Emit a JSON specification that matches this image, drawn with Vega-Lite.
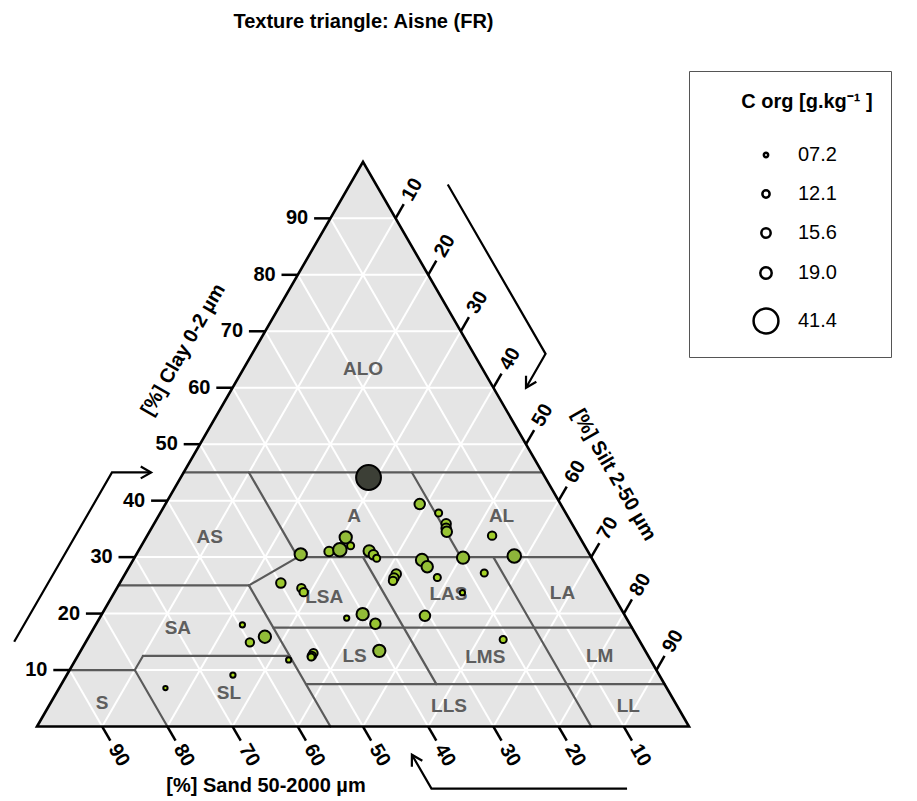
{
  "$schema": "https://vega.github.io/schema/vega-lite/v6.json",
  "width": 917,
  "height": 761,
  "autosize": {"type": "none"},
  "padding": {"top": 40, "left": 0, "right": 0, "bottom": 0},
  "background": "white",
  "config": {"view": {"stroke": null}, "font": "Liberation Sans, Arial, sans-serif"},
  "title": {"text": "Texture triangle: Aisne (FR)", "fontSize": 20, "fontWeight": "bold", "font": "Liberation Sans, Arial, sans-serif", "anchor": "middle", "dx": -95, "offset": -8, "baseline": "alphabetic", "color": "black"},
  "datasets": {
    "vertices": [
      {"clay": 0, "silt": 0, "sand": 100},
      {"clay": 100, "silt": 0, "sand": 0},
      {"clay": 0, "silt": 100, "sand": 0}
    ],
    "ticks": [
      {"axis": "clay", "v": 10}, {"axis": "clay", "v": 20}, {"axis": "clay", "v": 30}, {"axis": "clay", "v": 40}, {"axis": "clay", "v": 50}, {"axis": "clay", "v": 60}, {"axis": "clay", "v": 70}, {"axis": "clay", "v": 80}, {"axis": "clay", "v": 90},
      {"axis": "silt", "v": 10}, {"axis": "silt", "v": 20}, {"axis": "silt", "v": 30}, {"axis": "silt", "v": 40}, {"axis": "silt", "v": 50}, {"axis": "silt", "v": 60}, {"axis": "silt", "v": 70}, {"axis": "silt", "v": 80}, {"axis": "silt", "v": 90},
      {"axis": "sand", "v": 10}, {"axis": "sand", "v": 20}, {"axis": "sand", "v": 30}, {"axis": "sand", "v": 40}, {"axis": "sand", "v": 50}, {"axis": "sand", "v": 60}, {"axis": "sand", "v": 70}, {"axis": "sand", "v": 80}, {"axis": "sand", "v": 90}
    ],
    "bounds": [
      {"c1": 45, "s1": 0, "c2": 45, "s2": 55},
      {"c1": 45, "s1": 10, "c2": 30, "s2": 25},
      {"c1": 30, "s1": 25, "c2": 25, "s2": 20},
      {"c1": 25, "s1": 0, "c2": 25, "s2": 20},
      {"c1": 25, "s1": 20, "c2": 0, "s2": 45},
      {"c1": 30, "s1": 25, "c2": 30, "s2": 70},
      {"c1": 45, "s1": 35, "c2": 30, "s2": 50},
      {"c1": 30, "s1": 55, "c2": 0, "s2": 85},
      {"c1": 30, "s1": 35, "c2": 7.5, "s2": 57.5},
      {"c1": 17.5, "s1": 27.5, "c2": 17.5, "s2": 82.5},
      {"c1": 7.5, "s1": 37.5, "c2": 7.5, "s2": 92.5},
      {"c1": 12.5, "s1": 10, "c2": 12.5, "s2": 32.5},
      {"c1": 12.5, "s1": 10, "c2": 10, "s2": 10},
      {"c1": 10, "s1": 0, "c2": 10, "s2": 10},
      {"c1": 10, "s1": 10, "c2": 0, "s2": 20}
    ],
    "classes": [
      {"label": "ALO", "clay": 63.3, "silt": 18.35},
      {"label": "AS", "clay": 33.6, "silt": 9.7},
      {"label": "A", "clay": 37.3, "silt": 30.0},
      {"label": "AL", "clay": 37.3, "silt": 52.6},
      {"label": "LSA", "clay": 22.9, "silt": 32.6},
      {"label": "LAS", "clay": 23.5, "silt": 51.35},
      {"label": "LA", "clay": 23.6, "silt": 68.8},
      {"label": "SA", "clay": 17.4, "silt": 12.9},
      {"label": "LS", "clay": 12.4, "silt": 42.5},
      {"label": "LMS", "clay": 12.3, "silt": 62.6},
      {"label": "LM", "clay": 12.4, "silt": 80.1},
      {"label": "S", "clay": 4.2, "silt": 7.9},
      {"label": "SL", "clay": 5.9, "silt": 26.5},
      {"label": "LLS", "clay": 3.6, "silt": 61.4},
      {"label": "LL", "clay": 3.6, "silt": 88.9}
    ],
    "samples": [
      {"clay": 44.1, "silt": 28.8, "sand": 27.1, "corg": 41.4},
      {"clay": 39.4, "silt": 39.0, "sand": 21.6, "corg": 17.5},
      {"clay": 37.8, "silt": 42.7, "sand": 19.5, "corg": 11.8},
      {"clay": 35.9, "silt": 44.8, "sand": 19.3, "corg": 15.8},
      {"clay": 35.1, "silt": 45.2, "sand": 19.7, "corg": 15.8},
      {"clay": 34.5, "silt": 45.6, "sand": 19.9, "corg": 17.5},
      {"clay": 33.5, "silt": 30.6, "sand": 35.9, "corg": 20.5},
      {"clay": 32.0, "silt": 32.1, "sand": 35.9, "corg": 11.8},
      {"clay": 31.0, "silt": 29.3, "sand": 39.7, "corg": 15.8},
      {"clay": 31.3, "silt": 30.8, "sand": 37.9, "corg": 22.5},
      {"clay": 30.5, "silt": 25.2, "sand": 44.3, "corg": 20.5},
      {"clay": 31.1, "silt": 35.4, "sand": 33.5, "corg": 19.0},
      {"clay": 30.4, "silt": 36.4, "sand": 33.2, "corg": 15.8},
      {"clay": 29.8, "silt": 37.2, "sand": 33.0, "corg": 11.8},
      {"clay": 29.5, "silt": 44.3, "sand": 26.2, "corg": 20.5},
      {"clay": 28.3, "silt": 45.7, "sand": 26.0, "corg": 19.0},
      {"clay": 29.9, "silt": 50.4, "sand": 19.7, "corg": 20.5},
      {"clay": 26.4, "silt": 48.2, "sand": 25.4, "corg": 11.8},
      {"clay": 33.8, "silt": 52.9, "sand": 13.3, "corg": 14.0},
      {"clay": 27.2, "silt": 55.0, "sand": 17.8, "corg": 11.8},
      {"clay": 27.0, "silt": 41.6, "sand": 31.4, "corg": 15.8},
      {"clay": 26.3, "silt": 41.6, "sand": 32.1, "corg": 15.8},
      {"clay": 25.8, "silt": 41.7, "sand": 32.5, "corg": 14.0},
      {"clay": 25.4, "silt": 24.7, "sand": 49.9, "corg": 15.8},
      {"clay": 24.5, "silt": 28.3, "sand": 47.2, "corg": 14.0},
      {"clay": 23.8, "silt": 29.0, "sand": 47.2, "corg": 14.0},
      {"clay": 23.7, "silt": 53.4, "sand": 22.9, "corg": 8.8},
      {"clay": 19.9, "silt": 40.0, "sand": 40.1, "corg": 20.5},
      {"clay": 18.2, "silt": 42.8, "sand": 39.0, "corg": 17.5},
      {"clay": 19.2, "silt": 37.9, "sand": 42.9, "corg": 8.8},
      {"clay": 19.6, "silt": 49.7, "sand": 30.7, "corg": 17.5},
      {"clay": 18.0, "silt": 22.5, "sand": 59.5, "corg": 8.8},
      {"clay": 15.9, "silt": 27.0, "sand": 57.1, "corg": 20.5},
      {"clay": 14.9, "silt": 25.2, "sand": 59.9, "corg": 14.0},
      {"clay": 13.4, "silt": 45.8, "sand": 40.8, "corg": 20.5},
      {"clay": 13.0, "silt": 35.9, "sand": 51.1, "corg": 14.0},
      {"clay": 12.5, "silt": 35.9, "sand": 51.6, "corg": 14.0},
      {"clay": 12.3, "silt": 35.9, "sand": 51.8, "corg": 11.8},
      {"clay": 11.8, "silt": 32.7, "sand": 55.5, "corg": 8.8},
      {"clay": 9.1, "silt": 25.5, "sand": 65.4, "corg": 8.8},
      {"clay": 6.8, "silt": 16.3, "sand": 76.9, "corg": 7.2},
      {"clay": 15.4, "silt": 63.8, "sand": 20.8, "corg": 11.8},
      {"clay": 30.2, "silt": 58.1, "sand": 11.7, "corg": 22.5}
    ],
    "axes": [
      {"axis": "clay", "title": "[%] Clay 0-2 µm"},
      {"axis": "silt", "title": "[%] Silt 2-50 µm"},
      {"axis": "sand", "title": "[%] Sand 50-2000 µm"}
    ],
    "arrows": [
      {"id": "clay", "ord": 1, "clay": 15, "silt": -11},
      {"id": "clay", "ord": 2, "clay": 45, "silt": -11},
      {"id": "clay", "ord": 3, "clay": 45, "silt": -5},
      {"id": "clay-head", "ord": 1, "clay": 46.06, "silt": -7.12},
      {"id": "clay-head", "ord": 2, "clay": 45, "silt": -5},
      {"id": "clay-head", "ord": 3, "clay": 43.94, "silt": -6.06},
      {"id": "silt", "ord": 1, "clay": 96, "silt": 15},
      {"id": "silt", "ord": 2, "clay": 66, "silt": 45},
      {"id": "silt", "ord": 3, "clay": 60, "silt": 45},
      {"id": "silt-head", "ord": 1, "clay": 61.06, "silt": 46.06},
      {"id": "silt-head", "ord": 2, "clay": 60, "silt": 45},
      {"id": "silt-head", "ord": 3, "clay": 62.13, "silt": 43.94},
      {"id": "sand", "ord": 1, "clay": -11, "silt": 96},
      {"id": "sand", "ord": 2, "clay": -11, "silt": 66},
      {"id": "sand", "ord": 3, "clay": -5, "silt": 60},
      {"id": "sand-head", "ord": 1, "clay": -7.13, "silt": 61.06},
      {"id": "sand-head", "ord": 2, "clay": -5, "silt": 60},
      {"id": "sand-head", "ord": 3, "clay": -6.06, "silt": 62.13}
    ]
  },
  "encoding": {
    "x": {"field": "X", "type": "quantitative", "scale": {"domain": [-5.675, 134.97], "nice": false, "zero": false}, "axis": null},
    "y": {"field": "Y", "type": "quantitative", "scale": {"domain": [-13.195, 121.59], "nice": false, "zero": false}, "axis": null}
  },
  "layer": [
    {
      "data": {"name": "vertices"},
      "transform": [
        {"calculate": "datum.silt + datum.clay / 2", "as": "X"},
        {"calculate": "datum.clay", "as": "Y"}
      ],
      "mark": {"type": "area", "fill": "#e5e5e5", "strokeWidth": 0},
      "encoding": {"y2": {"datum": 0}}
    },
    {
      "data": {"name": "ticks"},
      "transform": [
        {"calculate": "datum.axis == 'clay' ? datum.v / 2 : (datum.axis == 'silt' ? datum.v : 100 - datum.v)", "as": "X"},
        {"calculate": "datum.axis == 'clay' ? datum.v : 0", "as": "Y"},
        {"calculate": "datum.axis == 'clay' ? 100 - datum.v / 2 : (datum.axis == 'silt' ? 50 + datum.v / 2 : 50 - datum.v / 2)", "as": "X2"},
        {"calculate": "datum.axis == 'clay' ? datum.v : 100 - datum.v", "as": "Y2"}
      ],
      "mark": {"type": "rule", "stroke": "white", "strokeWidth": 2},
      "encoding": {"x2": {"field": "X2"}, "y2": {"field": "Y2"}}
    },
    {
      "data": {"name": "bounds"},
      "transform": [
        {"calculate": "datum.s1 + datum.c1 / 2", "as": "X"},
        {"calculate": "datum.c1", "as": "Y"},
        {"calculate": "datum.s2 + datum.c2 / 2", "as": "X2"},
        {"calculate": "datum.c2", "as": "Y2"}
      ],
      "mark": {"type": "rule", "stroke": "#5a5a5a", "strokeWidth": 2.2, "strokeCap": "round"},
      "encoding": {"x2": {"field": "X2"}, "y2": {"field": "Y2"}}
    },
    {
      "data": {"name": "vertices"},
      "transform": [
        {"calculate": "datum.silt + datum.clay / 2", "as": "X"},
        {"calculate": "datum.clay", "as": "Y"}
      ],
      "mark": {"type": "area", "fill": "transparent", "stroke": "black", "strokeWidth": 2.6, "strokeJoin": "miter"},
      "encoding": {"y2": {"datum": 0}}
    },
    {
      "data": {"name": "ticks"},
      "transform": [
        {"calculate": "datum.axis == 'clay' ? datum.v / 2 : (datum.axis == 'silt' ? 50 + datum.v / 2 : 100 - datum.v)", "as": "X"},
        {"calculate": "datum.axis == 'clay' ? datum.v : (datum.axis == 'silt' ? 100 - datum.v : 0)", "as": "Y"},
        {"calculate": "datum.axis == 'clay' ? datum.v / 2 - 2.5 : (datum.axis == 'silt' ? 51.25 + datum.v / 2 : 101.25 - datum.v)", "as": "X2"},
        {"calculate": "datum.axis == 'clay' ? datum.v : (datum.axis == 'silt' ? 102.5 - datum.v : -2.5)", "as": "Y2"}
      ],
      "mark": {"type": "rule", "stroke": "black", "strokeWidth": 2.5},
      "encoding": {"x2": {"field": "X2"}, "y2": {"field": "Y2"}}
    },
    {
      "data": {"name": "classes"},
      "transform": [
        {"calculate": "datum.silt + datum.clay / 2", "as": "X"},
        {"calculate": "datum.clay", "as": "Y"}
      ],
      "mark": {"type": "text", "fontSize": 19, "fontWeight": "bold", "fill": "#5e5e5e", "align": "center", "baseline": "middle"},
      "encoding": {"text": {"field": "label"}}
    },
    {
      "data": {"name": "samples"},
      "transform": [
        {"calculate": "datum.silt + datum.clay / 2", "as": "X"},
        {"calculate": "datum.clay", "as": "Y"}
      ],
      "mark": {"type": "circle", "stroke": "black", "strokeWidth": 2, "opacity": 1},
      "encoding": {
        "fill": {"field": "corg", "type": "quantitative", "scale": {"domain": [7.2, 22, 41.4], "range": ["#b0de12", "#8fb83a", "#3c3f36"]}, "legend": null},
        "size": {
          "field": "corg", "type": "quantitative",
          "scale": {"type": "pow", "exponent": 2, "domain": [0, 41.4], "range": [0, 617]},
          "legend": {
            "title": "C org [g.kg⁻¹ ]",
            "orient": "none", "legendX": 689, "legendY": 31,
            "values": [7.2, 12.1, 15.6, 19.0, 41.4],
            "labelExpr": "format(datum.value, '04.1f')",
            "symbolType": "circle", "symbolFillColor": "white", "symbolStrokeColor": "black", "symbolStrokeWidth": 2.5,
            "symbolOffset": 45, "labelOffset": 18,
            "labelFontSize": 20, "labelFont": "Liberation Sans, Arial, sans-serif", "labelColor": "black", "labelLimit": 300,
            "titleFontSize": 20, "titleFont": "Liberation Sans, Arial, sans-serif", "titleFontWeight": "bold", "titleColor": "black",
            "titleAnchor": "middle", "titlePadding": 36, "rowPadding": 19, "padding": 18,
            "strokeColor": "#555555",
            "encoding": {"title": {"dx": {"value": 35}, "dy": {"value": 3}}}
          }
        }
      }
    },
    {
      "data": {"name": "ticks"},
      "transform": [
        {"filter": "datum.axis == 'clay'"},
        {"calculate": "datum.v / 2 - 3.4", "as": "X"},
        {"calculate": "datum.v", "as": "Y"}
      ],
      "mark": {"type": "text", "fontSize": 20, "fontWeight": "bold", "fill": "black", "align": "right", "baseline": "middle"},
      "encoding": {"text": {"field": "v"}}
    },
    {
      "data": {"name": "ticks"},
      "transform": [
        {"filter": "datum.axis == 'silt'"},
        {"calculate": "51.7 + datum.v / 2", "as": "X"},
        {"calculate": "103.4 - datum.v", "as": "Y"}
      ],
      "mark": {"type": "text", "fontSize": 20, "fontWeight": "bold", "fill": "black", "align": "left", "baseline": "middle", "angle": 300},
      "encoding": {"text": {"field": "v"}}
    },
    {
      "data": {"name": "ticks"},
      "transform": [
        {"filter": "datum.axis == 'sand'"},
        {"calculate": "101.7 - datum.v", "as": "X"},
        {"calculate": "-3.4", "as": "Y"}
      ],
      "mark": {"type": "text", "fontSize": 20, "fontWeight": "bold", "fill": "black", "align": "left", "baseline": "middle", "angle": 60},
      "encoding": {"text": {"field": "v"}}
    },
    {
      "data": {"name": "axes"},
      "transform": [
        {"calculate": "datum.axis == 'clay' ? 22.45 : (datum.axis == 'silt' ? 88.5 : 35.12)", "as": "X"},
        {"calculate": "datum.axis == 'clay' ? 66.7 : (datum.axis == 'silt' ? 44.54 : -10.54)", "as": "Y"}
      ],
      "mark": {"type": "text", "fontSize": 20, "fontWeight": "bold", "fill": "black", "align": "center", "baseline": "middle"},
      "encoding": {
        "text": {"field": "title"},
        "angle": {"condition": [{"test": "datum.axis == 'clay'", "value": 300}, {"test": "datum.axis == 'silt'", "value": 60}], "value": 0}
      }
    },
    {
      "data": {"name": "arrows"},
      "transform": [
        {"calculate": "datum.silt + datum.clay / 2", "as": "X"},
        {"calculate": "datum.clay", "as": "Y"}
      ],
      "mark": {"type": "line", "stroke": "black", "strokeWidth": 2.2, "strokeJoin": "miter"},
      "encoding": {"detail": {"field": "id"}, "order": {"field": "ord", "type": "quantitative"}}
    }
  ]
}
